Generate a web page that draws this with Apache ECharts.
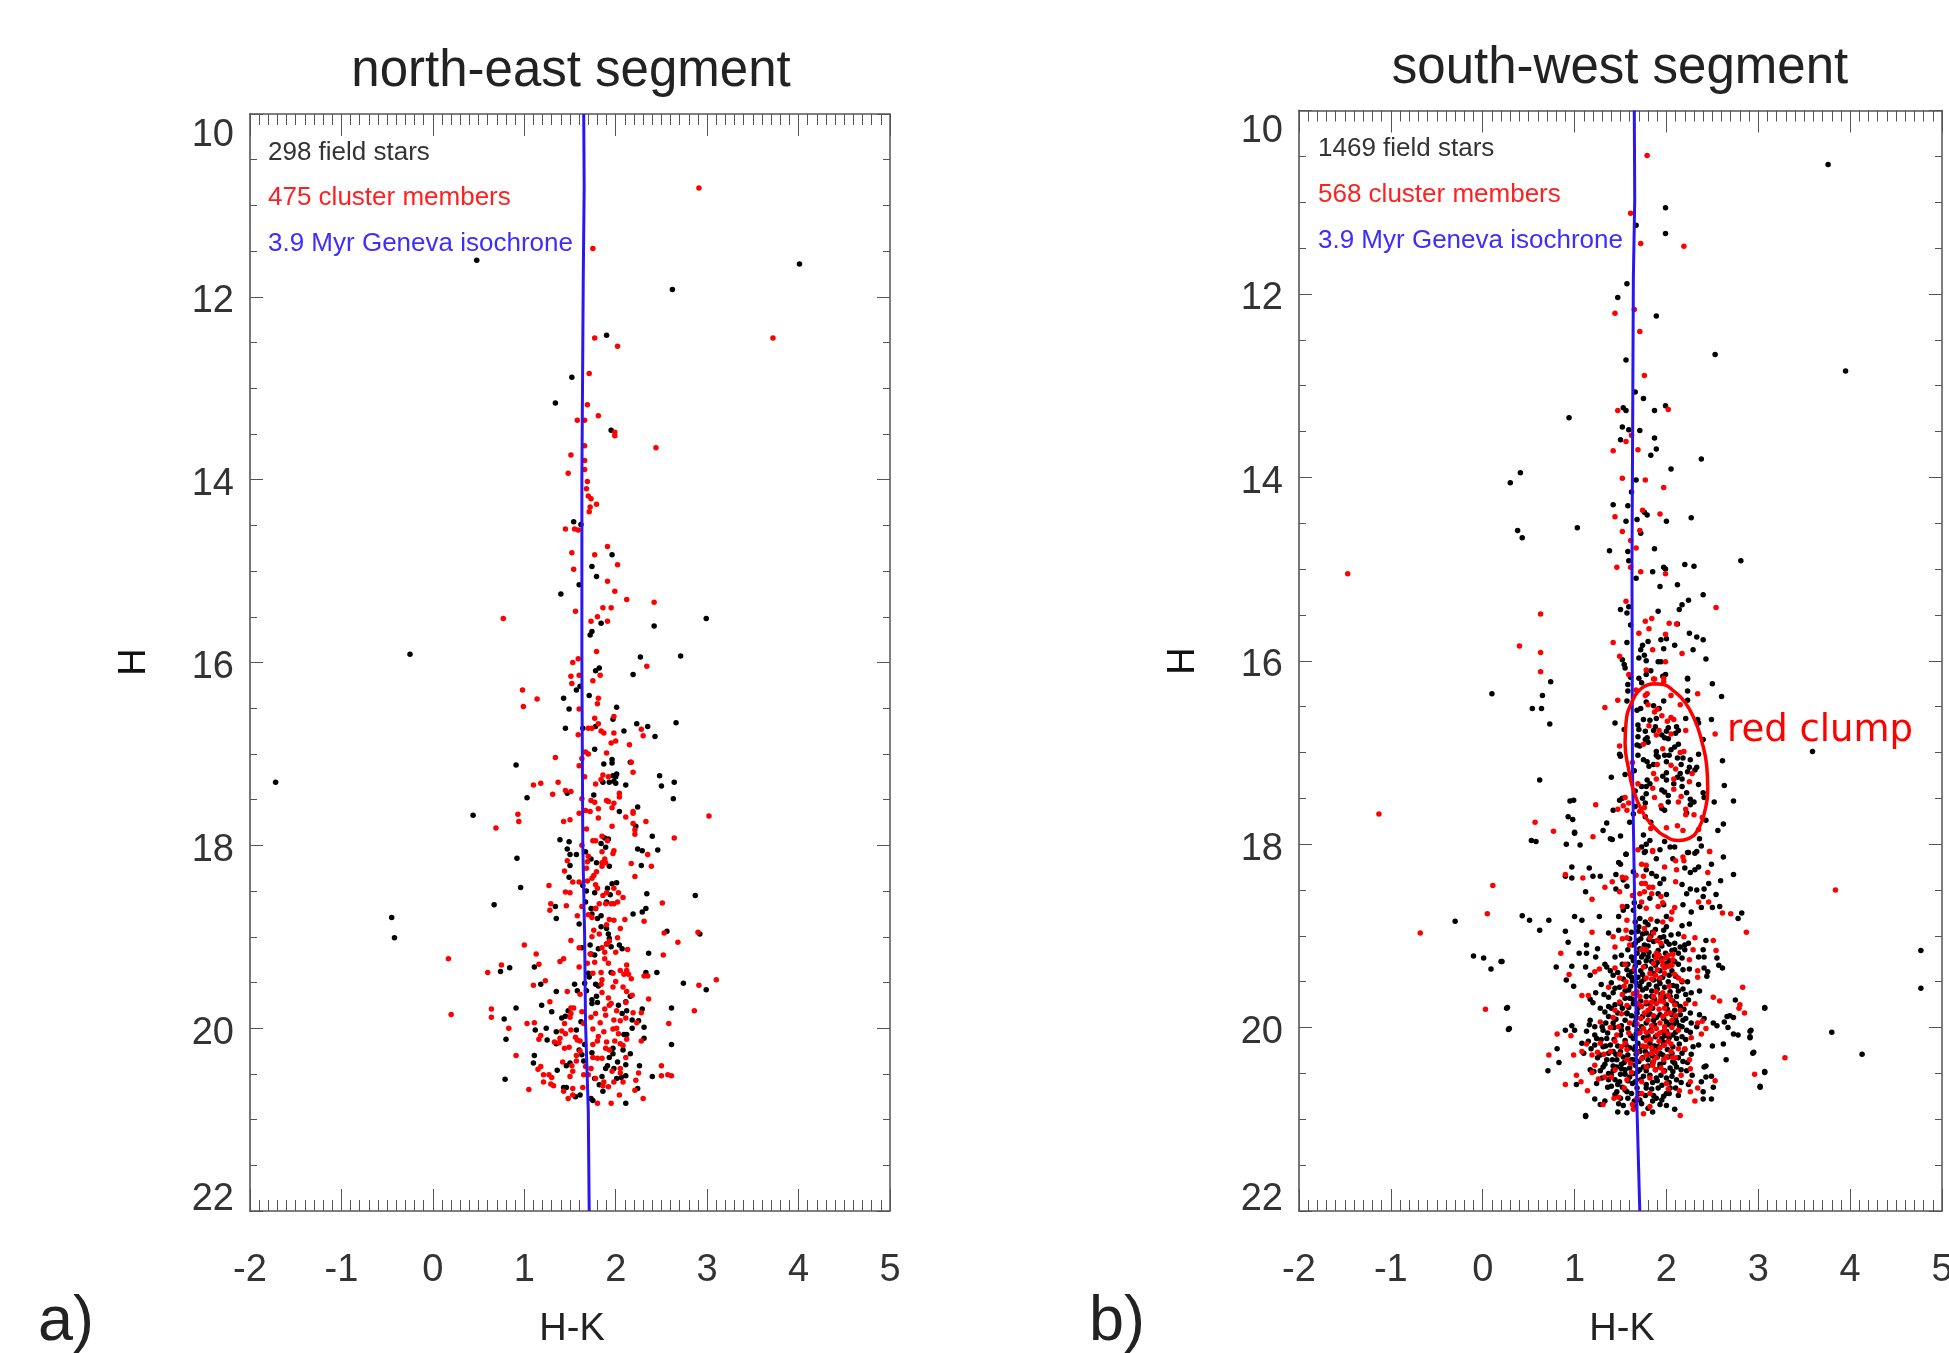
<!DOCTYPE html>
<html><head><meta charset="utf-8">
<style>html,body{margin:0;padding:0;background:#fff}#c{width:1949px;height:1353px}</style>
<script src="https://cdn.jsdelivr.net/npm/echarts@6/dist/echarts.min.js"></script>
</head><body><div id="c"></div>
<script>
const neField=[[0.48,11.6],[4.01,11.64],[2.62,11.92],[1.9,12.42],[1.52,12.88],[1.34,13.16],[1.95,13.46],[1.54,14.46],[1.62,14.49],[1.96,14.82],[1.74,14.95],[1.79,15.06],[1.6,15.15],[1.4,15.25],[2.99,15.52],[1.84,15.57],[2.42,15.6],[1.74,15.66],[1.72,15.7],[-0.25,15.91],
[-1.72,17.31],[-0.45,18.79],[-0.42,19.01],
[2.27,15.94],[2.71,15.93],[1.82,16.06],[1.78,16.09],[2.19,16.13],[1.61,16.26],[1.57,16.3],[1.43,16.39],[1.71,16.36],[2.01,16.49],[1.49,16.51],[1.97,16.62],[2.23,16.67],[2.35,16.7],[2.66,16.66],[1.45,16.72],[1.64,16.72],[1.78,16.7],[2.09,16.75],[2.43,16.81],[1.77,16.95],[1.96,17.06],[1.96,17.1],[1.87,17.11],[2.16,17.09],[0.91,17.12],[2.01,17.22],[1.97,17.24],[2,17.25],[2.48,17.24],[1.86,17.31],[1.93,17.31],[1.98,17.3],[2,17.32],[2.11,17.34],[2.5,17.35],[2.64,17.31],[1.47,17.43],[1.76,17.45],[1.03,17.48],[2.63,17.49],[2.24,17.58],[2.04,17.63],[0.44,17.67],[2.22,17.79],[2.4,17.9],[1.39,17.94],[1.49,17.96],[1.88,17.92],[1.92,17.93],[1.84,17.98],[1.89,18.02],[2.24,18.04],[2.29,18.06],[2.46,18.05],[1.47,18.04],[1.5,18.1],[1.57,18.1],[1.67,18.07],[0.92,18.14],[1.73,18.15],[1.79,18.19],
[1.5,18.22],[1.93,18.23],[2.28,18.22],[1.49,18.35],[1.96,18.42],[2.01,18.41],[0.96,18.46],[1.64,18.44],[1.68,18.5],[1.91,18.47],[1.77,18.52],[1.94,18.54],[2.34,18.53],[2.87,18.55],[0.67,18.65],[1.67,18.62],[1.9,18.62],[1.34,18.67],[1.73,18.69],[1.78,18.69],[2.33,18.69],[2.29,18.73],[2.19,18.75],[1.74,18.75],[1.35,18.8],[1.84,18.77],[1.8,18.8],[1.6,18.86],[1.84,18.89],[1.9,18.91],[1.92,18.97],[2.56,18.94],[2.92,18.97],[1.93,19.02],[1.9,19.08],[1.72,19.09],[2.04,19.09],[2.07,19.13],[1.95,19.11],[1.81,19.13],[1.63,19.12],[2.36,19.18],[1.73,19.19],[1.77,19.2],[1.11,19.33],[0.84,19.34],[0.74,19.38],[1.7,19.4],[1.95,19.39],[2.33,19.39],[2.45,19.39],[1.71,19.44],[2.74,19.51],[1.18,19.52],[1.55,19.52],[1.66,19.51],[1.78,19.52],[1.81,19.54],[1.68,19.59],[1.58,19.59],[2.99,19.58],[1.35,19.6],[2.16,19.65],[1.79,19.65],[1.74,19.69],[1.74,19.73],[1.8,19.72],[1.19,19.75],[2.03,19.75],[2.11,19.71],[0.91,19.78],[2.29,19.79],[2.61,19.78],[1.48,19.81],[1.3,19.82],[2.12,19.81],[2.07,19.84],[0.78,19.9],[1.45,19.87],[1.41,19.89],[1.62,19.93],[2.18,19.91],[2.25,19.92],[1.12,20.02],[1.24,20],[2.31,19.99],[2.18,20],[1.35,20.04],[1.57,20.02],[2.09,20.07],[2.12,20.07],[0.8,20.12],[1.25,20.13],[2.31,20.11],[1.35,20.17],[2.61,20.18],[1.66,20.18],[1.6,20.24],[2.08,20.24],[1.97,20.22],[1.11,20.3],[1.63,20.29],[1.74,20.27],[2.16,20.28],[1.97,20.28],[1.93,20.32],[1.1,20.38],[1.5,20.38],[1.65,20.36],[2.02,20.37],[2.11,20.4],[2.26,20.41],[1.91,20.41],[1.46,20.41],[1.36,20.46],[1.89,20.44],[1.98,20.44],[1.85,20.53],[2.11,20.52],[2.4,20.53],[0.79,20.56],[1.77,20.55],[2.01,20.55],[2.06,20.54],[1.82,20.62],[1.43,20.65],[1.46,20.65],[2.24,20.66],[1.86,20.69],[1.61,20.73],[1.56,20.75],[1.73,20.77],[1.75,20.79],[2.11,20.82]];
const neMembers=[[2.91,10.81],[1.75,11.47],[1.77,12.45],[3.72,12.45],[2.02,12.54],[1.71,12.84],[1.69,13.18],[1.81,13.3],[1.58,13.35],[1.66,13.35],[1.99,13.48],[1.99,13.52],[2.44,13.65],[1.66,13.63],[1.51,13.73],[1.66,13.79],[1.66,13.89],[1.48,13.93],[1.69,14.02],[1.68,14.1],[1.7,14.18],[1.73,14.21],[1.79,14.27],[1.72,14.3],[1.71,14.35],[1.45,14.54],[1.55,14.54],[1.59,14.55],[1.91,14.73],[1.52,14.8],[1.77,14.82],[2.02,14.93],[1.54,14.98],[1.91,15.11],[1.99,15.22],[2.12,15.31],[2.42,15.34],[1.86,15.4],[1.95,15.4],[1.56,15.44],[0.77,15.52],[1.8,15.5],[1.73,15.55],[1.91,15.55],
[0.17,19.24],[0.2,19.85],
[1.79,15.88],[1.59,15.96],[1.53,16],[2.34,16.04],[1.83,16.14],[1.6,16.14],[1.51,16.15],[1.75,16.2],[1.52,16.23],[0.98,16.3],[1.14,16.4],[1.81,16.39],[1.8,16.45],[0.99,16.48],[1.6,16.51],[1.77,16.61],[1.98,16.59],[1.81,16.67],[1.7,16.72],[1.74,16.72],[1.84,16.75],[1.87,16.77],[1.98,16.77],[2.28,16.73],[2.3,16.8],[1.59,16.79],[1.95,16.88],[2,16.86],[2.15,16.9],[1.67,16.98],[1.7,17],[1.9,16.99],[1.34,17.04],[1.63,17.05],[1.6,17.13],[2.17,17.09],[2.19,17.2],[1.66,17.25],[1.86,17.23],[1.84,17.28],[1.92,17.25],[1.78,17.33],[1.1,17.34],[1.18,17.32],[1.37,17.31],[1.45,17.4],[1.51,17.41],[1.31,17.44],[2.04,17.43],[2.04,17.47],[1.63,17.49],[1.73,17.51],[1.77,17.53],[1.9,17.51],[1.92,17.52],[1.98,17.54],[1.96,17.59],[1.81,17.6],[1.67,17.62],[1.72,17.63],[1.6,17.65],[2.19,17.63],[2.19,17.65],[0.93,17.66],[1.81,17.7],[2.11,17.69],[3.02,17.68],[0.94,17.74],[1.5,17.72],[1.43,17.74],[2.33,17.74],[2.19,17.76],[1.96,17.79],[0.69,17.81],[1.68,17.82],[2.21,17.83],[2.21,17.88],[1.85,17.9],[1.75,17.95],[1.78,17.95],[1.91,17.95],[2.64,17.92],[1.63,18],[1.85,18.07],[1.98,18.06],[1.97,18.09],[2.35,18.1],[1.7,18.12],[1.69,18.18],[1.47,18.17],[1.88,18.15],[1.85,18.19],[1.89,18.19],[2.17,18.2],
[1.44,18.28],[1.68,18.25],[1.85,18.23],[2.39,18.23],[1.79,18.29],[1.76,18.33],[1.74,18.36],[2.21,18.34],[1.69,18.39],[1.53,18.4],[1.6,18.4],[1.27,18.44],[1.78,18.43],[1.8,18.47],[1.98,18.47],[1.45,18.51],[1.5,18.52],[1.9,18.52],[2.03,18.52],[1.86,18.55],[2.08,18.57],[2.51,18.63],[1.29,18.64],[1.28,18.71],[1.46,18.66],[1.82,18.64],[1.89,18.64],[1.95,18.64],[1.98,18.64],[2.02,18.62],[1.78,18.69],[1.63,18.67],[1.58,18.77],[1.7,18.76],[1.74,18.79],[1.93,18.81],[1.98,18.82],[2.1,18.81],[2.31,18.83],[1.9,18.87],[2.05,18.91],[1.76,18.93],[1.82,18.97],[1.74,19],[2.53,18.96],[2.9,18.95],[2.68,19.06],[1.51,19.04],[2.02,19.01],[1.93,19.05],[1,19.09],[1.6,19.12],[1.85,19.12],[1.9,19.08],[2.13,19.14],[1.13,19.19],[1.88,19.17],[2,19.17],[1.72,19.19],[2.52,19.2],[1.43,19.24],[1.39,19.27],[1.88,19.24],[1.77,19.28],[1.92,19.29],[0.75,19.31],[1.16,19.3],[1.69,19.29],[1.6,19.33],[2.12,19.31],[0.6,19.39],[2.05,19.37],[2.12,19.37],[1.75,19.4],[1.84,19.39],[1.97,19.4],[2.09,19.41],[2.14,19.41],[2.31,19.43],[2.35,19.43],[2.17,19.46],[3.1,19.47],[1.23,19.48],[1.85,19.47],[2,19.49],[1.1,19.53],[1.84,19.52],[2.91,19.53],[1.97,19.55],[2.08,19.55],[1.47,19.6],[2.12,19.6],[1.61,19.63],[1.85,19.61],[2.18,19.64],[1.92,19.67],[2.36,19.68],[1.28,19.71],[1.95,19.73],[2.11,19.72],[1.93,19.75],[0.64,19.79],[1.54,19.78],[1.51,19.78],[1.63,19.82],[1.51,19.84],[1.78,19.84],[1.88,19.79],[2.01,19.81],[2.19,19.83],[2.28,19.83],[2.86,19.81],[0.64,19.88],[1.5,19.88],[1.73,19.88],[1.89,19.86],[1.98,19.91],[2.11,19.89],[1.03,19.95],[1.11,19.94],[1.44,19.95],[1.65,19.95],[1.83,19.94],[2.05,19.92],[2.23,19.94],[2.58,19.95],[0.83,20],[1.51,20.02],[1.75,20.01],[1.97,20.01],[2.01,20],[1.41,20.03],[1.45,20.06],[1.87,20.04],[1.18,20.08],[1.56,20.1],[1.81,20.09],[2.03,20.06],[1.39,20.11],[1.16,20.12],[1.58,20.13],[1.61,20.14],[2.12,20.12],[2.28,20.14],[1.33,20.15],[1.8,20.14],[1.9,20.15],[1.99,20.14],[1.38,20.16],[1.75,20.18],[2.05,20.17],[1.49,20.21],[1.44,20.22],[1.89,20.22],[2.08,20.19],[1.61,20.25],[1.93,20.24],[0.91,20.3],[1.57,20.3],[2.11,20.32],[1.75,20.32],[1.8,20.33],[1.85,20.33],[1.42,20.37],[1.57,20.36],[2.5,20.41],[1.18,20.42],[1.15,20.45],[1.52,20.41],[1.73,20.44],[1.67,20.42],[1.96,20.47],[2.05,20.44],[1.53,20.47],[2.25,20.49],[1.21,20.51],[2.5,20.52],[2.57,20.51],[2.61,20.52],[1.27,20.51],[1.3,20.54],[1.5,20.53],[1.65,20.51],[1.7,20.51],[1.78,20.55],[2.05,20.49],[2.22,20.57],[1.21,20.59],[1.98,20.59],[2.08,20.59],[1.87,20.59],[1.29,20.61],[1.32,20.63],[1.92,20.64],[1.86,20.63],[1.53,20.66],[1.64,20.65],[1.05,20.67],[1.43,20.69],[2.21,20.68],[2.04,20.73],[1.53,20.73],[1.48,20.77],[2.3,20.77],[1.8,20.82],[1.95,20.82]];
const neIsochrone=[[1.65,10],[1.655,10.8],[1.645,11.8],[1.63,14],[1.63,16],[1.64,18],[1.66,19],[1.67,19.95],[1.7,20.9],[1.71,22]];

const swField=[[3.76,10.59],[1.99,11.06],[1.67,11.25],[1.99,11.34],[1.57,11.89],[1.47,12.04],[1.89,12.24],[2.53,12.66],[3.95,12.84],[1.56,12.72],[1.66,13.07],[1.75,13.14],[1.99,13.22],[1.53,13.24],[1.56,13.27],[1.87,13.27],[0.94,13.35],[1.52,13.45],[1.59,13.48],[1.71,13.49],[1.87,13.57],[1.5,13.59],[1.89,13.69],[1.83,13.76],[2.38,13.8],[2.05,13.91],[0.41,13.95],[0.3,14.06],[1.67,14.03],[1.62,14.16],[1.42,14.3],[1.58,14.31],[1.76,14.38],[1.79,14.41],[2.27,14.44],[1.56,14.48],[1.68,14.46],[2,14.48],[1.03,14.55],[0.38,14.58],[0.43,14.66],[1.72,14.61],[1.38,14.8],[1.58,14.81],[1.87,14.78],[1.59,14.91],[2.81,14.91],[2.2,14.95],[2.3,14.97],[1.97,14.98],[1.99,15],[1.85,15.03],[1.67,15.1],[1.93,15.19],[2.12,15.17],[2.4,15.28],[2.24,15.34],[2.17,15.39],[2.14,15.44],[1.59,15.41],[1.5,15.44],[1.57,15.48],[1.91,15.46],[2.12,15.6],[1.61,15.61],[2.25,15.7],[2.33,15.74],[2.4,15.77],[1.57,15.8],[1.8,15.79],[1.94,15.77],[2,15.76],[1.74,15.83],[2.09,15.83],[1.72,15.88],[1.97,15.87],[2.29,15.88],[1.76,15.94],[1.7,15.97],[2.43,15.98],[1.52,15.99],[1.54,16.04],[1.78,16],[1.91,16.01],[1.94,16.01],[1.55,16.08],[1.83,16.11],[1.78,16.15],[1.99,16.15],[1.96,16.17],[1.61,16.18],[1.7,16.19],[2.23,16.19],
[2.23,16.2],[2.5,16.25],[0.74,16.23],[1.58,16.26],[1.73,16.24],[1.58,16.33],[2.23,16.33],[0.65,16.38],[2.6,16.39],[1.57,16.44],[1.78,16.45],[2.23,16.43],[1.97,16.44],[0.54,16.52],[0.64,16.52],[1.86,16.49],[1.72,16.52],[1.68,16.54],[1.92,16.52],[1.75,16.64],[2.34,16.64],[2.49,16.64],[2.21,16.63],[0.73,16.69],[1.44,16.68],[1.69,16.7],[1.89,16.63],[2.35,16.68],[1.82,16.65],[1.88,16.72],[2.02,16.73],[2.11,16.72],[1.54,16.75],[1.7,16.75],[2.13,16.76],[1.86,16.76],[1.77,16.77],[2,16.77],[2.1,16.79],[1.95,16.81],[1.69,16.83],[1.79,16.84],[1.98,16.84],[2.4,16.86],[1.77,16.86],[2.02,16.85],[1.8,16.89],[1.68,16.92],[2.13,16.91],[2.09,16.94],[1.71,16.93],[2.05,16.97],[1.89,16.99],[1.49,17.02],[1.5,17.04],[1.69,17.03],[1.89,17.03],[1.98,17.03],[2.03,17.03],[2.35,17.02],[1.91,17.05],[1.75,17.08],[1.79,17.1],[2.12,17.06],[2.18,17.06],[2.61,17.09],[2.16,17.13],[2.26,17.08],[1.86,17.13],[2,17.1],[1.81,17.15],[2.25,17.16],[2.33,17.16],[1.55,17.24],[1.65,17.2],[2.23,17.21],[2,17.22],[2.15,17.23],[2.31,17.19],[0.62,17.3],[1.4,17.27],[1.96,17.26],[1.79,17.3],[2.12,17.27],[2.17,17.29],[2,17.3],[1.82,17.34],[2.35,17.35],[1.78,17.37],[1.73,17.37],[2.63,17.36],[2.08,17.34],[2.17,17.37],[1.98,17.43],[1.66,17.42],[1.78,17.45],[2.22,17.44],[2.02,17.47],[2.4,17.44],[1.95,17.41],[1.74,17.5],[2.26,17.51],[2.52,17.54],[2.73,17.53],[0.95,17.53],[0.99,17.52],[1.52,17.5],[1.49,17.52],[1.66,17.59],[2.3,17.54],[2.41,17.49],[1.77,17.55],[2.02,17.54],[1.42,17.63],[1.64,17.67],[1.98,17.63],[1.95,17.61],[2.26,17.57],[2.22,17.66],[0.93,17.7],[0.98,17.73],[1.77,17.7],[1.83,17.76],[1.35,17.77],[1.6,17.76],[2.62,17.78],[2.43,17.74],[1.31,17.85],[2.56,17.85],[1,17.88],[1.75,17.9],[1.5,17.91],[1.39,17.94],[1.41,17.95],[1.82,17.96],[2.36,17.94],[0.53,17.96],[0.58,17.97],[0.91,18],[1.06,18.01],[1.78,18],[1.98,17.97],[1.73,18.03],[2.04,18.03],[2.09,18.03],[1.93,18.06],[2.38,18.02],[2.23,18.09],[1.56,18.11],[1.77,18.08],[2.31,18.1],
[-0.3,18.84],[-0.1,19.22],[0.01,19.24],[0.09,19.36],[0.2,19.28],[0.26,19.79],[0.28,20.02],[3.59,16.99],[4.77,19.16],[4.77,19.57],[3.8,20.05],[4.13,20.29],[1.12,20.97],[3.07,19.79],[2.91,20.04],[2.91,20.1],[2.94,20.28],[3.02,20.65],[3.07,20.49],[0.1,16.36],[1,17.87],
[0.97,18.25],[1.16,18.26],[0.9,18.35],[0.97,18.37],[1.2,18.35],[1.28,18.35],[1.56,18.11],[1.48,18.2],[1.5,18.22],[1.76,18.09],[1.89,18.16],[2.07,18.16],[2.24,18.09],[2.33,18.08],[2.62,18.14],[2.49,18.22],[2.35,18.25],[2.31,18.28],[2.26,18.31],[2.2,18.26],[2.73,18.33],[1.45,18.33],[1.64,18.3],[1.78,18.28],[1.84,18.32],[1.89,18.35],[1.97,18.38],[1.93,18.43],[2.17,18.44],[2.59,18.4],[2.46,18.43],[1.57,18.46],[1.53,18.39],[1.12,18.52],[1.45,18.49],[2.41,18.49],[2.26,18.49],[2.22,18.54],[2.33,18.5],[2.54,18.55],[2.4,18.57],[2,18.55],[1.91,18.54],[1.82,18.59],[1.65,18.64],[1.57,18.68],[2.18,18.66],[2.38,18.69],[2.5,18.69],[2.58,18.68],[1.97,18.66],[1.71,18.68],[1.64,18.72],[1.53,18.72],[2.27,18.74],[2.82,18.75],[2.78,18.81],[0.43,18.78],[0.51,18.83],[0.72,18.83],[1,18.79],[1.08,18.83],[1.27,18.79],[0.62,18.94],[0.9,18.95],[0.93,19.07],[1.48,18.79],[1.71,18.81],[1.77,18.85],[2,18.79],[2.17,18.89],[2.25,18.87],[1.97,18.94],[1.37,18.97],[1.48,18.94],[1.66,18.85],[1.69,18.95],[1.78,18.97],[2.13,18.98],[2.43,19.05],[1.13,19.1],[1.25,19.14],[1.05,19.19],[1.13,19.19],[1.23,19.23],[1.44,19.23],[1.51,19.21],[1.6,19.03],[1.69,19.05],[2,19.06],[2.15,19.12],[2.2,19.1],[2.24,19.08],[2.4,19.15],[2.55,19.24],[2.41,19.23],[2.35,19.23],[2.2,19.15],[2.13,19.19],[2.17,19.24],[2.09,19.15],[1.68,19.19],[1.62,19.23],[1.73,19.23],[1.8,19.23],[1.84,19.28],[2.09,19.28],[2,19.3],[0.21,19.28],[0.8,19.34],[0.97,19.33],[1.12,19.34],[1.33,19.31],[1.35,19.34],[1.39,19.38],[1.17,19.43],[0.91,19.48],[0.99,19.55],[1.29,19.53],[1.42,19.43],[1.57,19.37],[1.59,19.43],[1.62,19.45],[1.69,19.45],[1.73,19.5],[1.86,19.48],[2.02,19.5],[1.93,19.52],[2.18,19.37],[2.25,19.36],[2.41,19.35],[2.45,19.39],[2.57,19.32],[2.61,19.35],[2.17,19.5],[2.44,19.44],[2.07,19.54],[2.11,19.55],[2.18,19.58],[2.36,19.6],[2.27,19.62],[1.4,19.51],[1.44,19.57],[1.59,19.59],[1.78,19.57],[2.04,19.61],[1.23,19.62],[1.32,19.64],[1.37,19.67],[1.55,19.68],[1.78,19.66],[1.84,19.66],[2.04,19.66],[2.11,19.66],[1.17,19.69],[1.2,19.73],[1.28,19.79],[1.37,19.77],[1.44,19.75],[1.64,19.74],[1.78,19.74],[2,19.75],[2.11,19.74],[2.15,19.77],[0.27,19.78],[3.07,19.78],[2.75,19.7],[1.33,19.83],[1.57,19.84],[1.68,19.84],[1.8,19.86],[1.93,19.86],[2.06,19.86],[2.15,19.86],[2.26,19.84],[2.36,19.86],[2.41,19.9],[2.63,19.94],[2.66,19.88],[2.69,19.87],[2.73,19.89],[1.17,19.92],[1.16,19.97],[1.34,19.95],[1.42,19.95],[1.66,19.94],[1.86,19.92],[2,19.94],[2.11,19.94],[2.18,19.92],[2.51,19.95],[2.55,19.98],[0.29,20.01],[0.97,19.98],[0.9,20.03],[1,20.03],[1.13,20.04],[1.22,19.99],[1.31,20.03],[1.51,20.03],[1.68,20.03],[2,20.04],[2.07,20.08],[2.22,20.03],[2.17,19.99],[2.33,19.99],[2.67,20],[2.92,20.03],[2.73,20.07],[2.78,20.08],[2.91,20.11],[1.22,20.08],[1.24,20.12],[1.35,20.12],[1.64,20.12],[1.95,20.12],[2.11,20.12],[2.17,20.1],[1.15,20.15],[0.81,20.23],[1.08,20.17],[1.18,20.23],[1.31,20.21],[1.39,20.19],[1.66,20.21],[1.91,20.21],[1.97,20.19],[2.07,20.21],[2.29,20.21],[2.35,20.19],[2.5,20.2],[2.62,20.18],[1.1,20.28],[1.28,20.3],[1.42,20.26],[1.53,20.32],[1.71,20.26],[1.93,20.28],[2.06,20.28],[2.17,20.28],[2.27,20.29],[2.95,20.27],[0.83,20.38],[1.35,20.35],[1.46,20.35],[1.64,20.35],[1.8,20.35],[2.07,20.37],[2.18,20.37],[2.65,20.35],[0.71,20.47],[1.17,20.46],[1.31,20.43],[1.42,20.42],[1.51,20.45],[1.71,20.46],[1.93,20.43],[2.11,20.43],[2.41,20.43],[2.43,20.42],[3.07,20.48],[1.28,20.47],[1.42,20.47],[1.55,20.51],[1.78,20.47],[2.07,20.48],[2.22,20.47],[2.49,20.53],[2.43,20.54],[1.02,20.62],[1.24,20.61],[1.37,20.57],[1.49,20.59],[1.66,20.59],[1.89,20.55],[2,20.55],[2.11,20.57],[2.38,20.59],[2.51,20.65],[3.02,20.64],[1.4,20.64],[1.55,20.68],[1.78,20.66],[1.91,20.66],[2.04,20.66],[1.46,20.7],[1.62,20.72],[1.97,20.75],[2,20.72],[2.4,20.7],[1.22,20.78],[1.33,20.8],[1.5,20.77],[1.71,20.79],[1.89,20.77],[2.4,20.78],[2.49,20.78],[1.28,20.84],[1.48,20.83],[1.73,20.83],[1.93,20.84],[2.09,20.89],[1.47,20.92],[1.57,20.93],[1.85,20.92],[1.12,20.96]];
const swFieldCore=[[1.74,18.98],[1.83,19.0],[1.88,18.93],[1.93,19.02],[2.05,18.99],[1.66,19.08],[1.76,19.1],[1.86,19.06],[1.95,19.11],[2.03,19.09],[1.58,19.15],[1.71,19.14],[1.81,19.18],[1.99,19.19],[2.06,19.16],[1.64,19.27],[1.78,19.27],[1.9,19.29],[2.03,19.27],[2.13,19.31],[1.52,19.31],[1.66,19.33],[1.83,19.36],[1.93,19.38],[2.06,19.38],[1.47,19.4],[1.62,19.39],[1.74,19.42],[1.96,19.45],[2.1,19.44],[1.53,19.47],[1.67,19.51],[1.81,19.53],[1.89,19.55],[1.98,19.56],[2.23,19.5],[1.49,19.56],[1.61,19.55],[1.74,19.59],[1.84,19.6],[1.94,19.64],[2.13,19.6],[2.21,19.64],[1.42,19.62],[1.63,19.69],[1.72,19.71],[1.87,19.69],[1.96,19.7],[2.07,19.71],[2.24,19.7],[1.5,19.74],[1.59,19.78],[1.69,19.79],[1.85,19.79],[2.01,19.8],[2.09,19.81],[2.19,19.8],[1.4,19.79],[1.47,19.84],[1.62,19.87],[1.74,19.88],[1.89,19.89],[1.97,19.9],[2.1,19.9],[2.21,19.9],[1.37,19.88],[1.45,19.91],[1.55,19.92],[1.65,19.97],[1.78,19.95],[1.87,19.97],[2.03,19.97],[2.14,19.98],[2.27,19.95],[1.3,19.99],[1.43,20],[1.58,20.01],[1.71,20.05],[1.83,20.03],[1.96,20.05],[2.1,20.05],[2.26,20.05],[1.36,20.06],[1.5,20.08],[1.61,20.09],[1.75,20.11],[1.88,20.1],[2.03,20.11],[2.21,20.13],[1.29,20.13],[1.43,20.13],[1.55,20.14],[1.69,20.17],[1.82,20.17],[1.97,20.16],[2.14,20.18],[1.22,20.19],[1.34,20.2],[1.47,20.2],[1.6,20.22],[1.73,20.21],[1.85,20.25],[2.01,20.24],[2.2,20.24],[1.37,20.28],[1.5,20.26],[1.58,20.3],[1.67,20.29],[1.8,20.29],[1.9,20.32],[2.02,20.32],[2.13,20.33],[1.25,20.33],[1.41,20.35],[1.54,20.38],[1.7,20.37],[1.85,20.39],[1.97,20.38],[2.23,20.38],[1.33,20.4],[1.46,20.43],[1.6,20.44],[1.75,20.43],[1.88,20.46],[2.04,20.44],[2.16,20.46],[1.21,20.48],[1.37,20.5],[1.5,20.51],[1.64,20.5],[1.82,20.52],[1.94,20.52],[2.06,20.53],[2.28,20.52],[1.3,20.55],[1.44,20.57],[1.58,20.58],[1.72,20.57],[1.85,20.6],[2.16,20.6],[1.36,20.65],[1.52,20.65],[1.68,20.66],[1.84,20.67],[2.1,20.66],[2.24,20.62],[1.44,20.73],[1.58,20.77],[1.77,20.74],[1.95,20.79],[2.13,20.74],[1.53,20.85],[1.66,20.86],[1.8,20.88],[2.0,20.85],
[1.7,18.9],[1.8,18.88],[1.9,18.84],[1.62,18.96],[1.85,18.96],[2.0,18.9],[1.72,19.03],[1.81,19.04],[1.97,19.01],[1.63,19.1],[1.8,19.11],[1.91,19.16],[2.09,19.08],[1.75,19.2],[1.87,19.22],[1.95,19.25],[1.7,19.29],[1.58,19.31],[1.77,19.33],[1.88,19.32],[1.72,19.38],[1.98,19.33],[1.86,19.41],[2.03,19.43],[1.63,19.49],[1.76,19.47],[1.92,19.48],[1.71,19.55],[1.55,19.6],[1.67,19.62],[1.9,19.58],[1.6,19.68],[1.99,19.66],[1.52,19.79],[1.82,19.74],[1.57,19.85],[1.67,19.89],[1.82,19.85],[1.51,19.98],[1.73,19.99],[2.08,19.96],[1.67,20.07],[1.8,20.09],[1.98,20.09],[1.56,20.19],[1.65,20.24],[1.77,20.26],[1.87,20.2],[1.45,20.29],[1.62,20.35],[1.74,20.33],[1.85,20.31],[1.96,20.3],[1.51,20.4],[1.66,20.41],[1.8,20.42],[1.93,20.4],[2.09,20.39],[1.55,20.46],[1.69,20.48],[1.98,20.47],[1.4,20.52],[1.6,20.54],[1.75,20.53],[1.9,20.58],[2.03,20.6],[1.47,20.62],[1.63,20.61],[1.78,20.62],[1.95,20.63],[1.57,20.7],[1.7,20.72],[1.86,20.74],[2.03,20.72],[1.65,20.8],[1.85,20.8]];
const swMembers=[[1.79,10.49],[1.61,11.12],[1.72,11.45],[2.19,11.48],[1.65,12.17],[1.44,12.21],[1.71,12.41],[1.76,12.89],[1.47,13.27],[2.02,13.26],[1.62,13.54],[1.56,13.61],[1.42,13.71],[1.69,13.7],[1.52,14.01],[1.77,14.03],[1.97,14.11],[1.74,14.36],[1.93,14.4],[1.44,14.43],[1.52,14.59],[1.71,14.58],[1.61,14.69],[1.67,14.77],[1.46,14.98],[1.61,14.98],[1.72,15.03],[1.99,15.05],[-1.47,15.05],[1.56,15.35],[2.54,15.42],[0.63,15.49],[1.77,15.57],[1.84,15.54],[2.03,15.59],[2.11,15.6],[1.7,15.7],[1.81,15.65],[1.99,15.71],[1.42,15.8],[0.4,15.84],[1.85,15.88],[1.49,15.95],[2.17,15.92],[0.63,15.91],[1.99,16.01],[1.78,16.1],[1.59,16.15],[0.63,16.12],[1.86,16.2],[1.97,16.19],
[-1.13,17.67],[-0.68,18.97],[0.11,18.45],[0.05,18.76],[0.03,19.8],[3.84,18.5],
[1.97,16.23],[1.87,16.2],[1.67,16.32],[2.34,16.36],[1.77,16.38],[1.79,16.36],[2.05,16.38],[1.47,16.43],[1.8,16.48],[2.15,16.48],[1.33,16.51],[1.87,16.56],[1.9,16.53],[1.95,16.6],[2.05,16.62],[2.08,16.64],[2.01,16.66],[1.81,16.71],[2.21,16.76],[1.92,16.76],[1.89,16.81],[2.05,16.8],[2.53,16.8],[1.75,16.91],[1.49,16.93],[1.96,16.96],[2.15,17],[2.19,16.99],[1.63,17.11],[1.9,17.13],[2.05,17.14],[2.1,17.18],[1.86,17.23],[2.28,17.23],[1.89,17.29],[2.08,17.29],[2.25,17.32],[1.69,17.34],[2.08,17.4],[1.85,17.39],[2.16,17.48],[1.87,17.49],[1.55,17.49],[1.59,17.55],[2.13,17.54],[1.23,17.57],[1.94,17.58],[1.53,17.58],[1.47,17.62],[1.57,17.63],[1.76,17.6],[1.71,17.64],[2.21,17.62],[2.21,17.68],[2.3,17.68],[0.57,17.76],[0.77,17.86],[1.2,17.92],[2,17.82],[2.12,17.8],[2.18,17.85],[1.83,17.83],[2.39,17.71],[2.35,17.84],[1.85,18.08],[1.69,18.06],[2.47,18.08],
[0.9,18.33],[1.09,18.37],[1.33,18.47],[1.41,18.41],[1.49,18.52],[1.19,18.6],[1.52,18.36],[1.56,18.37],[1.67,18.34],[1.75,18.35],[1.73,18.22],[1.78,18.23],[1.98,18.25],[2.11,18.28],[2.1,18.18],[2.18,18.14],[2.19,18.18],[1.85,18.07],[2.47,18.08],[2.45,18.31],[2.1,18.41],[1.73,18.43],[1.77,18.43],[1.71,18.54],[1.76,18.52],[1.81,18.47],[1.85,18.47],[1.84,18.54],[1.94,18.57],[1.63,18.56],[1.73,18.63],[1.96,18.64],[2.35,18.63],[2.46,18.63],[1.52,18.68],[1.78,18.7],[1.91,18.68],[2.09,18.69],[2.06,18.74],[2.61,18.75],[2.7,18.76],[1.57,18.83],[1.83,18.82],[1.96,18.85],[2.05,18.82],[1.19,18.96],[2.87,18.96],[1.76,18.92],[1.56,18.94],[1.86,18.97],[1.42,19.01],[1.52,19.03],[1.57,19.02],[2.19,19.01],[2.31,19.02],[2.51,19.05],[1.9,19.05],[1.94,19.08],[1.44,19.12],[1.6,19.1],[1.82,19.02],[1.73,19.15],[1.78,19.15],[2.29,19.15],[2.54,19.16],[0.85,19.19],[1.89,19.19],[1.92,19.21],[2.02,19.21],[2.07,19.2],[1.89,19.24],[1.99,19.24],[2.07,19.26],[2.25,19.26],[1.96,19.32],[2.06,19.32],[1.44,19.35],[1.27,19.36],[1.22,19.39],[1.75,19.34],[1.55,19.31],[1.65,19.36],[0.94,19.42],[2.34,19.38],[2.34,19.45],[1.98,19.35],[2.09,19.42],[1.88,19.43],[1.82,19.41],[1.78,19.46],[1.49,19.46],[2.13,19.46],[2.17,19.49],[1.56,19.5],[1.54,19.55],[1.37,19.56],[2.83,19.56],[1.89,19.61],[1.96,19.62],[1.64,19.63],[1.71,19.66],[1.68,19.61],[1.52,19.64],[1.08,19.65],[1.15,19.65],[2.51,19.67],[1.49,19.72],[1.69,19.74],[1.84,19.72],[1.89,19.74],[1.97,19.72],[2.05,19.7],[2.21,19.74],[2.31,19.74],[2.58,19.71],[2.8,19.75],[1.57,19.76],[1.73,19.77],[1.92,19.8],[1.8,19.81],[2.15,19.81],[2.79,19.79],[1.44,19.81],[1.76,19.84],[2,19.85],[1.51,19.85],[2.85,19.84],[1.28,19.94],[1.42,19.89],[1.6,19.95],[1.8,19.92],[1.93,19.95],[2.06,19.92],[2.34,19.95],[2.39,19.93],[1.48,19.99],[1.39,20],[1.75,20.01],[1.89,20.01],[1.98,19.99],[2.43,20.01],[0.81,20.07],[0.96,20.09],[1.46,20.08],[1.59,20.06],[1.71,20.06],[1.84,20.04],[1.93,20.06],[2.13,20.03],[2.38,20.07],[1.44,20.15],[1.55,20.17],[1.78,20.14],[2.02,20.15],[1.13,20.18],[2.27,20.11],[1.28,20.17],[1.51,20.21],[1.78,20.21],[1.89,20.26],[2.05,20.18],[2.13,20.23],[2.2,20.23],[0.72,20.3],[0.99,20.3],[1.08,20.26],[1.19,20.3],[1.25,20.27],[1.32,20.29],[1.39,20.26],[1.49,20.29],[1.73,20.34],[1.84,20.28],[2,20.32],[1.57,20.35],[1.86,20.37],[2.25,20.35],[2.1,20.33],[3.29,20.33],[1.22,20.41],[1.61,20.39],[1.78,20.43],[1.88,20.46],[1.97,20.48],[2.26,20.45],[1.62,20.49],[1.44,20.46],[1.19,20.49],[2.96,20.51],[1.02,20.52],[1.33,20.54],[1.4,20.54],[2.16,20.52],[1.07,20.59],[1.26,20.56],[1.57,20.57],[1.73,20.59],[1.82,20.55],[0.9,20.62],[2,20.61],[2.26,20.59],[2.53,20.58],[1.54,20.66],[1.14,20.69],[2.02,20.67],[2.14,20.69],[2.26,20.7],[2.34,20.66],[1.73,20.72],[1.82,20.72],[1.43,20.77],[1.48,20.76],[1.68,20.77],[2.31,20.8],[1.31,20.84],[1.63,20.84],[1.82,20.86],[1.64,20.89],[1.75,20.94],[2.15,20.96]];
const swMembersCore=[[1.86,19.3],[1.95,19.27],[2.02,19.33],[1.9,19.37],[1.98,19.41],[1.84,19.47],[1.93,19.46],[2.03,19.55],[1.86,19.66],[1.94,19.67],[2.02,19.65],[1.78,19.72],[1.93,19.71],[2.09,19.75],[1.83,19.78],[1.98,19.79],[2.04,19.84],[1.72,19.9],[1.86,19.87],[1.96,19.88],[2.1,19.87],[1.68,19.96],[1.84,19.98],[1.98,20.03],[2.06,20.0],[1.78,20.05],[1.9,20.08],[2.02,20.07],[1.83,20.13],[1.92,20.15],[1.98,20.19],[1.74,20.2],[1.84,20.22],[1.93,20.22],[2.05,20.26],[1.57,20.24],[1.68,20.27],[1.78,20.3],[1.89,20.33],[1.97,20.35],[2.07,20.33],[1.85,20.41],[1.94,20.44]];
const swIsochrone=[[1.65,10],[1.655,10.97],[1.64,11.82],[1.625,15],[1.63,17.15],[1.66,19.02],[1.68,20.9],[1.71,22]];
const clumpOutline=[[1.86,16.25],[1.97,16.26],[2.08,16.33],[2.2,16.45],[2.31,16.65],[2.38,16.86],[2.44,17.16],[2.45,17.41],[2.42,17.63],[2.35,17.83],[2.24,17.94],[2.13,17.96],[2,17.92],[1.86,17.81],[1.73,17.63],[1.64,17.41],[1.59,17.19],[1.55,16.9],[1.56,16.68],[1.62,16.46],[1.73,16.3],[1.86,16.25]];

const xTicks=[-2,-1,0,1,2,3,4,5];
const panelTitles=['north-east segment','south-west segment'];
const panelLetters=['a)','b)'];
const fieldNotes=['298 field stars','1469 field stars'];
const memberNotes=['475 cluster members','568 cluster members'];
const isoNote='3.9 Myr Geneva isochrone';

const FONT='"Liberation Sans"',AX='#555',BLUE='#2a16f5',RED='#ff0000';
const grids=[{left:250,top:114,width:640,height:1097,outerBoundsMode:'none'},{left:1299,top:110.5,width:643,height:1100.5,outerBoundsMode:'none'}];
function xAx(g,pos){return {gridIndex:g,type:'value',position:pos,min:-2,max:5,interval:1,
  axisLine:{show:true,onZero:false,lineStyle:{color:AX,width:1.5}},
  axisTick:{show:true,inside:true,length:22,lineStyle:{color:AX,width:1}},
  minorTick:{show:true,splitNumber:10,length:11,lineStyle:{color:AX,width:1}},
  splitLine:{show:false},minorSplitLine:{show:false},
  axisLabel:{show:pos==='bottom',margin:41,fontFamily:FONT,fontSize:38,color:'#333',formatter:v=>xTicks.includes(v)?String(v):''}};}
const tickStyle={fontFamily:FONT,fontSize:38,color:'#333'};
function yAx(g,pos){return {gridIndex:g,type:'value',position:pos,min:10,max:22,interval:2,inverse:true,
  axisLine:{show:true,onZero:false,lineStyle:{color:pos==='left'?'#777':AX,width:pos==='left'?2:1.5}},
  axisTick:{show:true,inside:true,length:13,lineStyle:{color:AX,width:1}},
  minorTick:{show:true,splitNumber:4,length:7,lineStyle:{color:AX,width:1}},
  splitLine:{show:false},minorSplitLine:{show:false},
  axisLabel:{show:pos==='left',margin:16,...tickStyle,verticalAlign:'middle',padding:[10,0,0,0],
    formatter:v=>v===10?'{hi|10}':v===22?'{lo|22}':'{mid|'+v+'}',
    rich:{mid:{...tickStyle},hi:{...tickStyle,padding:[33,0,0,0]},lo:{...tickStyle,padding:[0,0,33,0]}}}};}
function pts(name,data,g,color,z){return {name,type:'scatter',xAxisIndex:g*2,yAxisIndex:g*2,data,symbol:'circle',symbolSize:5.5,itemStyle:{color,opacity:1},z,silent:true,animation:false};}
function iso(data,g){return {type:'line',xAxisIndex:g*2,yAxisIndex:g*2,data,showSymbol:false,lineStyle:{color:BLUE,width:3},z:5,silent:true,animation:false};}
function txt(text,x,y,size,color,extra){return Object.assign({type:'text',x,y,silent:true,style:{text,fontFamily:FONT,fontSize:size,fill:color,textAlign:'center',textVerticalAlign:'middle'}},extra||{});}
function note(text,x,y,color){const t=txt(text,x,y,26,color);t.style.textAlign='left';return t;}

const chart=echarts.init(document.getElementById('c'),null,{renderer:'canvas',width:1949,height:1353});
const graphic=[
 txt(panelTitles[0],571,72,51,'#222'),txt(panelTitles[1],1620,69,51,'#222'),
 note(fieldNotes[0],268,153,'#333'),note(memberNotes[0],268,198,'#ff2020'),note(isoNote,268,244,'#3f2cff'),
 note(fieldNotes[1],1318,149,'#333'),note(memberNotes[1],1318,195,'#ff2020'),note(isoNote,1318,241,'#3f2cff'),
 txt('H-K',572,1330,38,'#222'),txt('H-K',1622,1330,38,'#222'),
 txt('H',135,662,38,'#111',{rotation:Math.PI/2}),txt('H',1184,661,38,'#111',{rotation:Math.PI/2}),
 txt(panelLetters[0],66,1323,63,'#222'),txt(panelLetters[1],1117,1323,63,'#222')
];
const rc=txt('red clump',1820,731,37,RED);rc.style.fontFamily='"DejaVu Sans"';graphic.push(rc);
chart.setOption({animation:false,backgroundColor:'#fff',
 grid:grids,
 xAxis:[xAx(0,'bottom'),xAx(0,'top'),xAx(1,'bottom'),xAx(1,'top')],
 yAxis:[yAx(0,'left'),yAx(0,'right'),yAx(1,'left'),yAx(1,'right')],
 series:[pts('neField',neField,0,'#000',2),pts('neMembers',neMembers,0,RED,3),iso(neIsochrone,0),
  pts('swField',swField,1,'#000',2),pts('swFieldCore',swFieldCore,1,'#000',2),pts('swMembers',swMembers,1,RED,3),pts('swMembersCore',swMembersCore,1,RED,3),iso(swIsochrone,1),
  {type:'line',xAxisIndex:2,yAxisIndex:2,data:clumpOutline,showSymbol:false,smooth:0.5,lineStyle:{color:RED,width:3.5},z:6,silent:true,animation:false}],
 graphic
});
</script></body></html>
